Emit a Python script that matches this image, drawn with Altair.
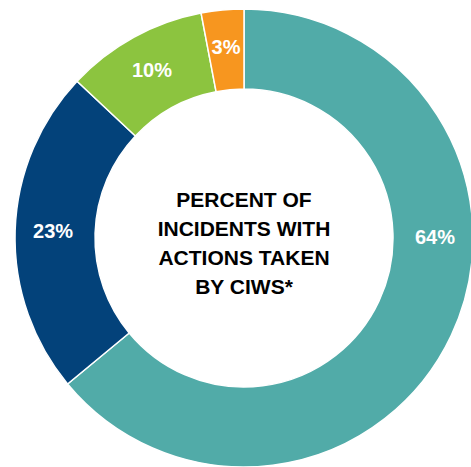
import altair as alt
import pandas as pd

categories = ["A", "B", "C", "D"]
values = [64, 23, 10, 3]
labels = ["64%", "23%", "10%", "3%"]
colors = ["#51ABA8", "#03427A", "#8CC43F", "#F7961F"]
center_lines = ["PERCENT OF", "INCIDENTS WITH", "ACTIONS TAKEN", "BY CIWS*"]

df = pd.DataFrame({"cat": categories, "value": values, "label": labels,
                   "order": list(range(len(categories)))})

theta_scale = alt.Scale(domain=[0, 100])

arcs = alt.Chart(df).mark_arc(outerRadius=229, innerRadius=149, stroke="white", strokeWidth=1.5).encode(
    theta=alt.Theta("value:Q", stack=True, scale=theta_scale),
    color=alt.Color("cat:N", scale=alt.Scale(domain=categories, range=colors), legend=None),
    order=alt.Order("order:Q"),
)

text = alt.Chart(df).transform_window(
    cum="sum(value)", sort=[alt.SortField("order")]
).transform_calculate(
    mid="datum.order == 0 ? 25 : datum.cum - datum.value / 2"
).mark_text(font="Liberation Sans", fontWeight="bold", fontSize=20, color="white",
            align="center", baseline="middle").encode(
    theta=alt.Theta("mid:Q", stack=None, scale=theta_scale),
    radius=alt.value(191),
    text="label:N",
)

center = alt.Chart(df.head(1)).mark_text(
    text=center_lines, font="Liberation Sans", fontWeight="bold", fontSize=21,
    lineHeight=29, color="black", align="center", baseline="middle"
).encode(x=alt.value(227), y=alt.value(192))

chart = alt.layer(arcs, text, center).properties(
    width=454, height=458,
    autosize=alt.AutoSizeParams(type="none"),
    padding={"left": 17, "top": 9, "right": 0, "bottom": 0},
).configure_view(stroke=None)

chart.save("out.html", embed_options={"renderer": "svg", "actions": False})
